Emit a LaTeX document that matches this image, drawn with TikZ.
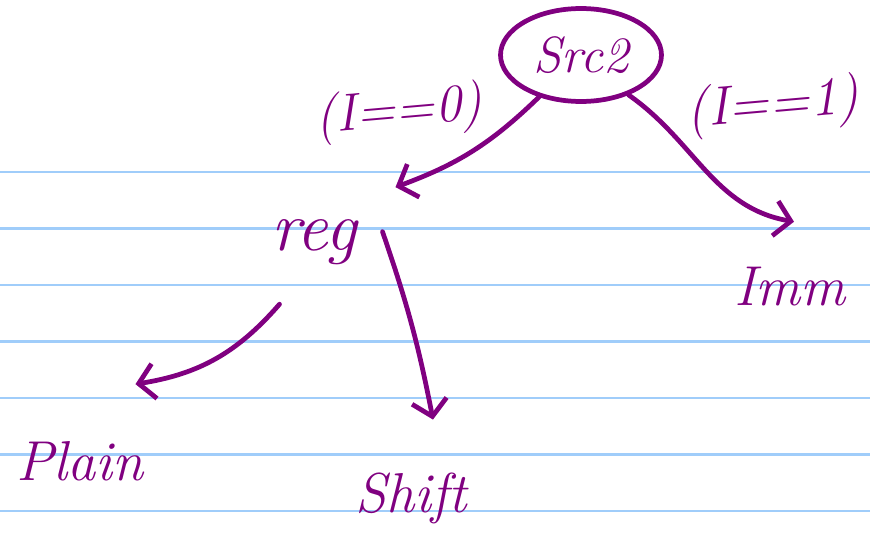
\documentclass[tikz,border=0pt]{standalone}
\usetikzlibrary{arrows.meta,shapes.geometric}
\definecolor{ink}{RGB}{128,0,128}
\definecolor{ruling}{RGB}{160,205,250}
\begin{document}
\begin{tikzpicture}[x=0.02cm, y=-0.02cm, every node/.style={font=\itshape\fontsize{32}{32}\selectfont, text=ink, inner sep=2pt, anchor=base}, wire/.style={draw=ink, line width=2.7pt, line cap=round, line join=round}, >={Straight Barb[length=9pt,width=20pt]}]
\useasboundingbox (0,0) rectangle (870,534);
% ruled paper
\foreach \y in {172,228.5,...,520} \draw[ruling, line width=1.2pt] (0,\y) -- (870,\y);
% nodes
\node[ellipse, draw=ink, line width=2.7pt, anchor=center, minimum width=3.22cm, minimum height=1.86cm, font=\itshape\fontsize{29}{29}\selectfont] (src) at (581,55) {Src2};
\node[rotate=5, font=\itshape\fontsize{30}{30}\selectfont] (zero) at (400,126) {(I==0)};
\node[rotate=5, font=\itshape\fontsize{31}{31}\selectfont] (one) at (774,120) {(I==1)};
\node[font=\itshape\fontsize{40}{40}\selectfont] (reg) at (314,250) {reg};
\node (imm) at (790,305) {Imm};
\node (plain) at (80,480) {Plain};
\node (shift) at (411,512) {Shift};
% connectors
\draw[wire,->] (src.225) to[bend left=12] ([shift={(35,-28)}]reg.north east);
\draw[wire,->] (src.320) to[out=-35, in=170] ([shift={(4,-41)}]imm.north);
\draw[wire,->] ([shift={(12,36)}]reg.south west) to[bend left=20] ([shift={(-12,-53)}]plain.north east);
\draw[wire,->] ([shift={(22,-10)}]reg.east) to[bend left=4] ([shift={(22,-49)}]shift.north);
\end{tikzpicture}
\end{document}
